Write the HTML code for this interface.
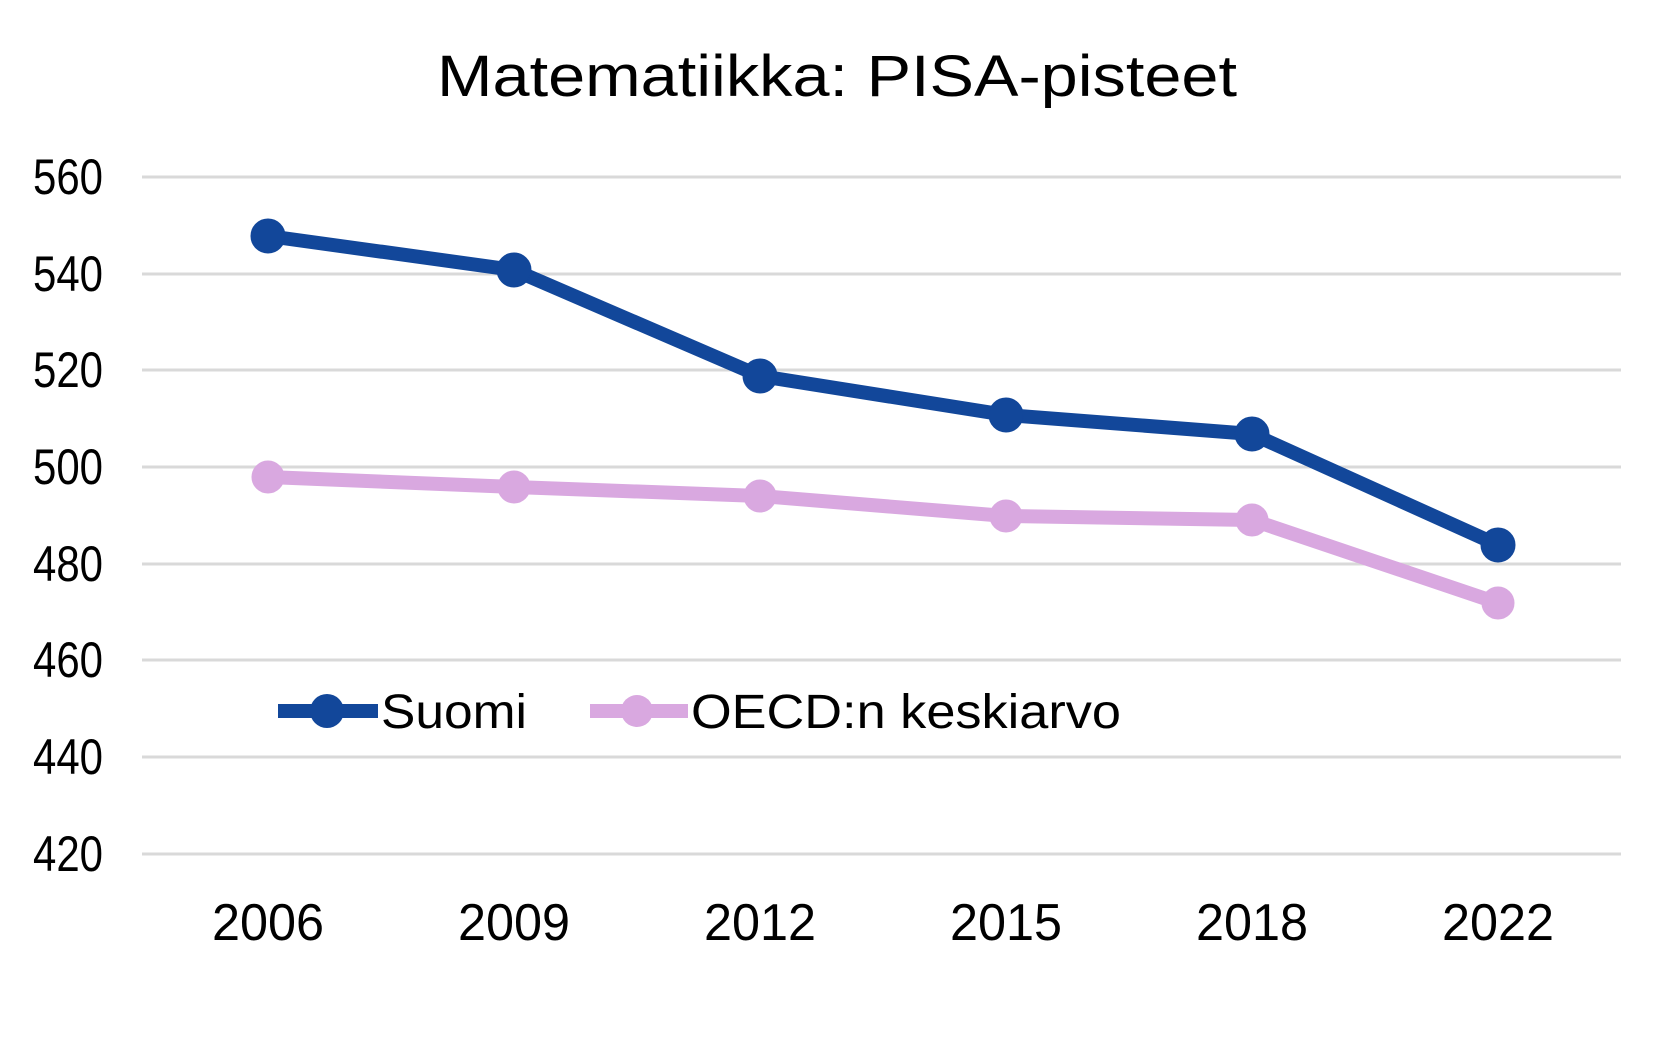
<!DOCTYPE html>
<html><head><meta charset="utf-8"><style>body{margin:0;background:#fff}svg{display:block}</style></head><body>
<svg width="1672" height="1047" viewBox="0 0 1672 1047" xmlns="http://www.w3.org/2000/svg" font-family="'Liberation Sans', 'DejaVu Sans', sans-serif">
<text x="837" y="96" font-size="58" text-anchor="middle" fill="#000" textLength="800" lengthAdjust="spacingAndGlyphs">Matematiikka: PISA-pisteet</text>
<g stroke="#d9d9d9" stroke-width="3">
<line x1="142" x2="1621" y1="177" y2="177"/><line x1="142" x2="1621" y1="274" y2="274"/><line x1="142" x2="1621" y1="370" y2="370"/><line x1="142" x2="1621" y1="467" y2="467"/><line x1="142" x2="1621" y1="564" y2="564"/><line x1="142" x2="1621" y1="660" y2="660"/><line x1="142" x2="1621" y1="757" y2="757"/><line x1="142" x2="1621" y1="854" y2="854"/>
</g>
<g font-size="50" text-anchor="end" fill="#000">
<text x="103" y="194" textLength="70" lengthAdjust="spacingAndGlyphs">560</text>
<text x="103" y="291" textLength="70" lengthAdjust="spacingAndGlyphs">540</text>
<text x="103" y="387" textLength="70" lengthAdjust="spacingAndGlyphs">520</text>
<text x="103" y="484" textLength="70" lengthAdjust="spacingAndGlyphs">500</text>
<text x="103" y="581" textLength="70" lengthAdjust="spacingAndGlyphs">480</text>
<text x="103" y="677" textLength="70" lengthAdjust="spacingAndGlyphs">460</text>
<text x="103" y="774" textLength="70" lengthAdjust="spacingAndGlyphs">440</text>
<text x="103" y="871" textLength="70" lengthAdjust="spacingAndGlyphs">420</text>
</g>
<g font-size="52" text-anchor="middle" fill="#000">
<text x="268" y="940" textLength="112" lengthAdjust="spacingAndGlyphs">2006</text>
<text x="514" y="940" textLength="112" lengthAdjust="spacingAndGlyphs">2009</text>
<text x="760" y="940" textLength="112" lengthAdjust="spacingAndGlyphs">2012</text>
<text x="1006" y="940" textLength="112" lengthAdjust="spacingAndGlyphs">2015</text>
<text x="1252" y="940" textLength="112" lengthAdjust="spacingAndGlyphs">2018</text>
<text x="1498" y="940" textLength="112" lengthAdjust="spacingAndGlyphs">2022</text>
</g>
<g fill="#D9A8E0" stroke="#D9A8E0">
<polyline fill="none" stroke-width="14" stroke-linejoin="round" points="268,477 514,487 760,496 1006,516 1252,520 1498,603"/>
<circle cx="268" cy="477" r="16"/><circle cx="514" cy="487" r="16"/><circle cx="760" cy="496" r="16"/><circle cx="1006" cy="516" r="16"/><circle cx="1252" cy="520" r="16"/><circle cx="1498" cy="603" r="16"/>
</g>
<g fill="#12479A" stroke="#12479A">
<polyline fill="none" stroke-width="14" stroke-linejoin="round" points="268,236 514,270 760,376 1006,415 1252,434 1498,545"/>
<circle cx="268" cy="236" r="17"/><circle cx="514" cy="270" r="17"/><circle cx="760" cy="376" r="17"/><circle cx="1006" cy="415" r="17"/><circle cx="1252" cy="434" r="17"/><circle cx="1498" cy="545" r="17"/>
</g>
<line x1="278" x2="378" y1="711" y2="711" stroke="#12479A" stroke-width="14"/>
<circle cx="327" cy="711" r="17" fill="#12479A"/>
<text x="381" y="728" font-size="48" fill="#000" textLength="146" lengthAdjust="spacingAndGlyphs">Suomi</text>
<line x1="590" x2="688" y1="711" y2="711" stroke="#D9A8E0" stroke-width="14"/>
<circle cx="637" cy="711" r="16" fill="#D9A8E0"/>
<text x="691" y="728" font-size="48" fill="#000" textLength="430" lengthAdjust="spacingAndGlyphs">OECD:n keskiarvo</text>
</svg>
</body></html>
